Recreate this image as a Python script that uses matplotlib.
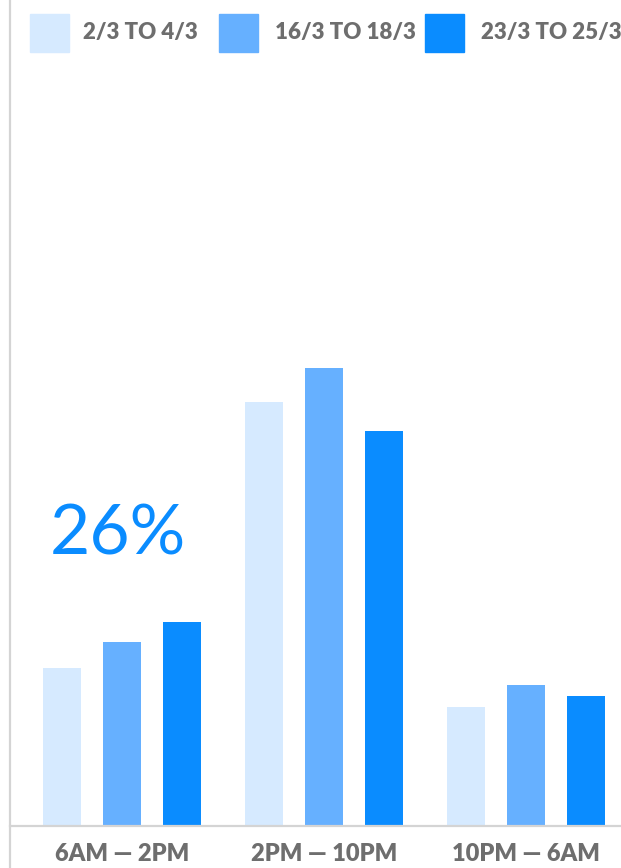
import matplotlib
matplotlib.use("Agg")
import matplotlib.pyplot as plt
from matplotlib.patches import Rectangle
from matplotlib.lines import Line2D
import numpy as np

categories = ["6AM — 2PM", "2PM — 10PM", "10PM — 6AM"]
series_names = ["2/3 TO 4/3", "16/3 TO 18/3", "23/3 TO 25/3"]
series_1 = [22.6, 60.6, 17.0]
series_2 = [26.3, 65.4, 20.1]
series_3 = [29.1, 56.4, 18.6]
colors = ["#d6eaff", "#66b0ff", "#0a8cff"]
annotation = "26%"

W, H = 621, 868
fig = plt.figure(figsize=(W / 100, H / 100), dpi=100)
ax = fig.add_axes([10 / W, (H - 826) / H, (W - 10) / W, 826 / H])

x = np.arange(len(categories))
width = 0.188
offset = 0.295
for i, (vals, c) in enumerate(zip([series_1, series_2, series_3], colors)):
    ax.bar(x + (i - 1) * offset, vals, width=width, color=c, zorder=2)

ax.set_xlim((10 - 122) / 202, (621 - 122) / 202)
ax.set_ylim(0, 826 / 7)
for s in ["top", "right", "left"]:
    ax.spines[s].set_visible(False)
ax.spines["bottom"].set_color("#d4d4d4")
ax.spines["bottom"].set_linewidth(1.6)
ax.set_yticks([])
ax.set_xticks(x)
ax.set_xticklabels(categories, fontsize=17, fontweight="heavy", color="#6e6e6e",
                   family=["Lato", "DejaVu Sans"])
ax.tick_params(axis="x", length=0, pad=12)

# left vertical rule spanning full height
fig.add_artist(Line2D([10 / W, 10 / W], [0, 1], color="#d4d4d4", lw=1.6,
                      transform=fig.transFigure))

# annotation
ax.text((50 - 122) / 202, (826 - 535) / 7, annotation, fontsize=50, color="#0a8cff",
        family=["Lato", "DejaVu Sans"], fontweight="normal", ha="left", va="center")

# legend
sq_x = [30, 219, 425]
tx_x = [83, 275, 481]
for sx, tx, name, c in zip(sq_x, tx_x, series_names, colors):
    fig.add_artist(Rectangle((sx / W, 1 - 52 / H), 39 / W, 38 / H, color=c,
                             transform=fig.transFigure))
    fig.text(tx / W, 1 - 33 / H, name, fontsize=16, fontweight="heavy", color="#6e6e6e",
             family=["Lato", "DejaVu Sans"], ha="left", va="center")

fig.savefig("out.png", dpi=100)
